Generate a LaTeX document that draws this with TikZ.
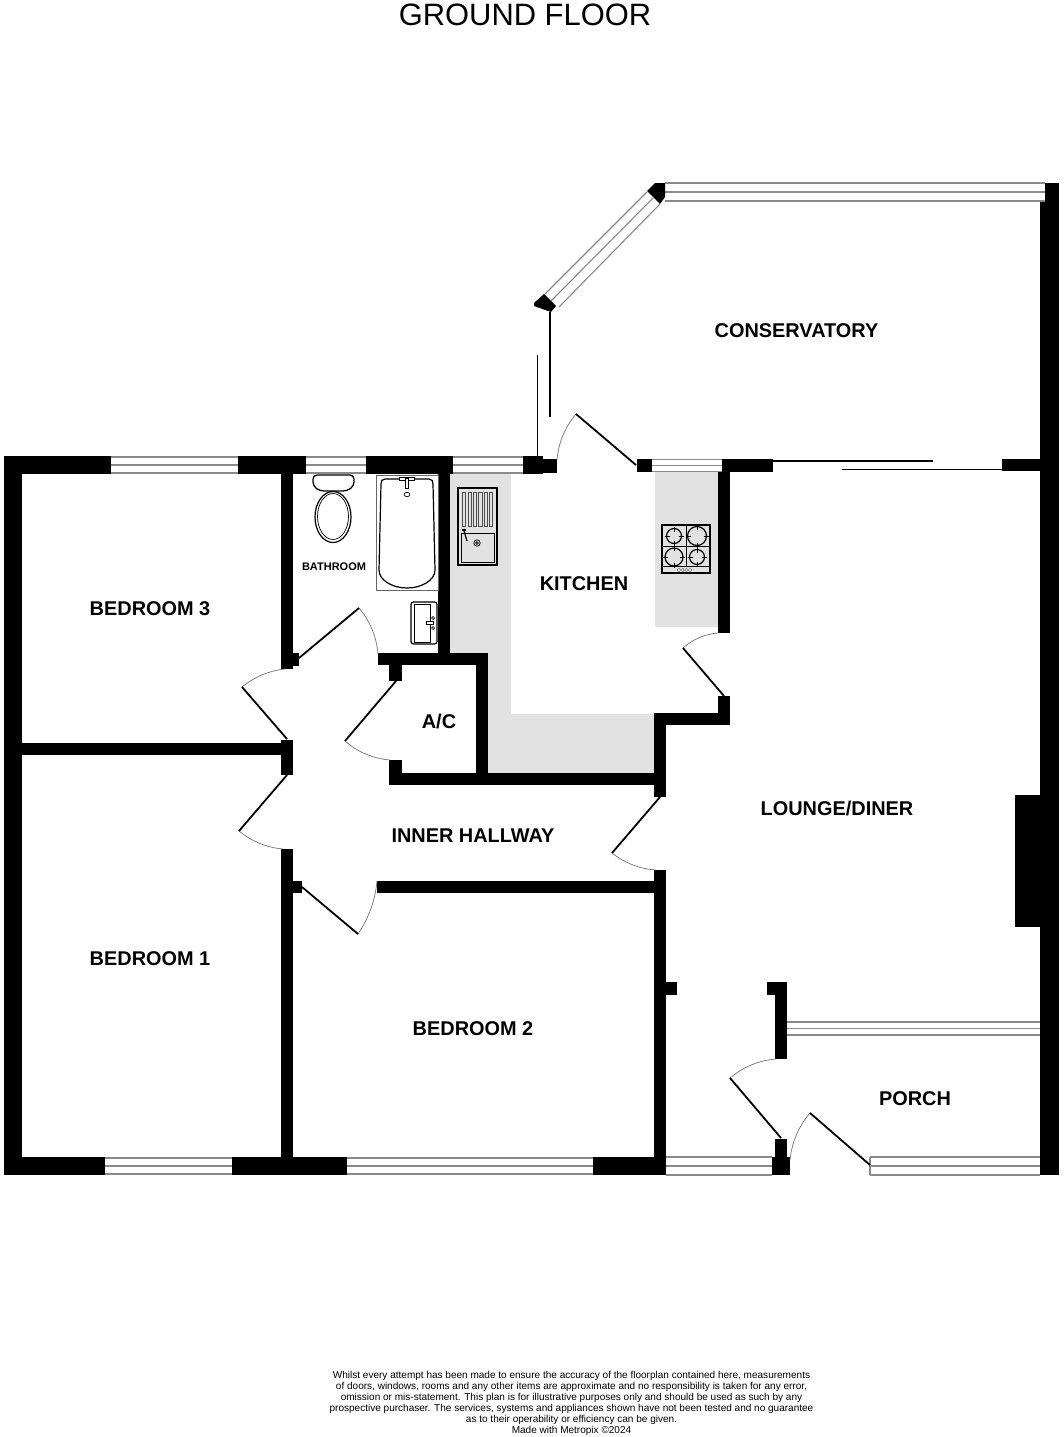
\documentclass[tikz,border=0pt]{standalone}
\usepackage{fontspec}
\setmainfont{Liberation Sans}
\usetikzlibrary{calc}
\definecolor{wallc}{HTML}{000000}
\definecolor{glass}{HTML}{8A8A8A}
\definecolor{counter}{HTML}{E2E2E2}
\tikzset{
  leaf/.style={line width=1.8pt,black},
  swing/.style={line width=0.7pt,black!55},
  glassline/.style={line width=1.1pt,glass},
  fix/.style={line width=1.2pt,black},
  fixthin/.style={line width=0.7pt,black},
  room/.style={font=\bfseries\fontsize{19.9}{22}\selectfont,inner sep=0pt},
}
\newcommand\wall[4]{\fill[wallc] (#1,#2) rectangle (#3,#4);}
\newcommand\hwin[4]{% x1 x2 y1 y2
  \fill[white] (#1,#3) rectangle (#2,#4);
  \draw[glassline] (#1,#3) -- (#2,#3) (#1,{(#3+#4)/2}) -- (#2,{(#3+#4)/2}) (#1,#4) -- (#2,#4);
}
% hinge, leaf end, arc end
\newcommand\door[6]{%
  \coordinate (H) at (#1,#2); \coordinate (L) at (#3,#4); \coordinate (A) at (#5,#6);
  \draw[swing] (L) .. controls ($0.7017*(L)+0.3683*(A)-0.07*(H)$) and ($0.7017*(A)+0.3683*(L)-0.07*(H)$) .. (A);
  \draw[leaf] (H) -- (L);
}
\newcommand\burner[3]{%
  \draw[fix] (#1,#2) circle (#3);
  \draw[fixthin] (#1-#3-2,#2) -- (#1-#3+3,#2) (#1+#3-3,#2) -- (#1+#3+2,#2)
                 (#1,#2-#3-2) -- (#1,#2-#3+3) (#1,#2+#3-3) -- (#1,#2+#3+2);
}
\begin{document}
\begin{tikzpicture}[x=1pt,y=-1pt]
\useasboundingbox (0,0) rectangle (1064,1437);
\fill[white] (0,0) rectangle (1064,1437);

% counters
\fill[counter] (450,474) -- (511,474) -- (511,714) -- (654,714) -- (654,773) -- (488,773) -- (488,653) -- (450,653) -- cycle;
\fill[counter] (655,472) rectangle (718,627);

% top wall of the house
\wall{4}{456}{111}{474}
\wall{238}{456}{306}{474}
\wall{366}{456}{453}{474}
\wall{523}{456}{543}{474}
\wall{543}{459}{557}{473}
\wall{637}{459}{652}{472}
\wall{722}{459}{773}{471.5}
\wall{1002}{459}{1040}{471}
% windows top
\hwin{111}{238}{457}{473}
\hwin{306}{366}{457}{473}
\hwin{453}{523}{457}{473}
\hwin{652}{722}{459.5}{471.5}

% outer
\wall{4}{456}{22}{1175}
\wall{1040}{201}{1059}{1175}
\wall{1045}{183}{1059}{201}
\wall{1015}{795}{1040}{927}
% bottom wall
\wall{4}{1157}{105}{1175}
\wall{232}{1157}{347}{1175}
\wall{593}{1157}{666}{1175}
\wall{772}{1157}{790}{1175}
\wall{775}{1139}{787}{1157}
\hwin{105}{232}{1158}{1174}
\hwin{347}{593}{1158}{1174}
\hwin{666}{772}{1157}{1175}
\hwin{870}{1040}{1157}{1175}
\draw[glassline] (870,1157) -- (870,1175);

% interior walls
\wall{22}{743}{281}{755}
\wall{281}{474}{293}{669}
\wall{293}{653}{299}{666}
\wall{281}{740}{293}{775}
\wall{281}{849}{293}{1157}
\wall{293}{881}{302}{893}
\wall{377}{881}{666}{893}
\wall{654}{870}{666}{1157}
\wall{666}{982}{677}{995}
\wall{438}{474}{450}{653}
\wall{378}{653}{488}{665}
\wall{389}{665}{402}{681}
\wall{476}{653}{488}{785}
\wall{389}{760}{402}{785}
\wall{389}{773}{666}{785}
\wall{654}{713}{666}{797}
\wall{654}{713}{730}{725}
\wall{718}{696}{730}{725}
\wall{718}{472}{730}{633}
\wall{767}{982}{787}{995}
\wall{775}{982}{787}{1059}
\hwin{787}{1040}{1022}{1035}

% conservatory glazing
\hwin{665}{1045}{183}{201}
\draw[glassline] (545,294) -- (647,192) (551,301) -- (653,198) (559,307) -- (660,204);
\fill[wallc] (655,183) -- (665,183) -- (665,197) -- (660,204) -- (647,191) -- cycle;
\fill[wallc] (544,294) -- (556,306) -- (551,312) -- (534,306) -- (534,303) -- cycle;

% sliding doors
\draw[leaf] (550,312) -- (550,417);
\draw[leaf] (537.5,355) -- (537.5,456);
\draw[line width=1.6pt] (773,460.8) -- (933,460.8);
\draw[line width=1.6pt] (842,469.5) -- (1002,469.5);

% doors
\door{636}{465}{576}{414}{557}{460}
\door{724}{696}{683}{648}{718}{633}
\door{299}{658}{359}{608}{378}{654}
\door{287}{739}{242}{687}{285}{669}
\door{287}{775}{239}{831}{283}{849}
\door{302}{887}{358}{934}{377}{881}
\door{396}{681}{345}{741}{390}{760}
\door{660}{797}{612}{853}{656}{870}
\door{781}{1138}{730}{1078}{776}{1059}
\door{870}{1165}{810}{1113}{790}{1160}

% toilet
\draw[line width=1.3pt,fill=white,rounded corners=4pt] (313,475) -- (354,475) -- (354,486) -- (347,491) -- (320,491) -- (313,486) -- cycle;
\draw[fix] (333,517) ellipse (18 and 25.5);
\draw[fixthin] (333,516.5) ellipse (15.5 and 23);
% bath
\draw[line width=0.8pt,black!60] (376,475) rectangle (438,590);
\draw[fix] (385,479) -- (429,479) .. controls (432,479) and (433,481) .. (433,484)
  -- (435,570) .. controls (435,580) and (422,588) .. (407,588)
  .. controls (392,588) and (379,580) .. (379,570) -- (381,484) .. controls (381,481) and (382,479) .. (385,479) -- cycle;
\draw[fixthin,fill=white] (399,477.5) rectangle (414,480.5);
\draw[fixthin,fill=white] (405.5,478) rectangle (408.5,488);
\draw[fixthin] (407,494.5) ellipse (2.8 and 2.2);
% basin
\draw[line width=1.2pt,rounded corners=2.5pt] (411,602) rectangle (437,644);
\draw[fixthin] (414,604) rectangle (430,642);
\draw[fixthin,fill=white] (426,621) rectangle (433,624);
\draw[fixthin] (433,618) circle (1.5) (433,628) circle (1.5);
% kitchen sink
\draw[line width=1.4pt] (458,488) rectangle (497,565);
\foreach \i in {0,...,5}{\draw[line width=0.6pt,black!70] ({462.5+5.4*\i},492) rectangle ({465.7+5.4*\i},526);}
\draw[fixthin] (461,533) rectangle (494,562);
\draw[fixthin] (477,543) circle (3.2) (477,543) circle (1.3);
\draw[line width=1.2pt] (464,531) -- (467,541);
\draw[line width=1.2pt] (462,530) -- (466,530);
% hob
\draw[line width=1.2pt] (662,525) rectangle (710,573);
\draw[fixthin] (686,525) -- (686,566) (662,546) -- (710,546) (662,566) -- (710,566);
\burner{674}{536}{7.5}
\burner{697}{536}{9.5}
\burner{674}{557}{9}
\burner{697}{557}{7.5}
\foreach \i in {0,1,2,3}{\draw[line width=0.4pt,black!55] ({679+3.7*\i},570) circle (1.8);}

% labels
\node[inner sep=0pt,font=\fontsize{30.9}{34}\selectfont] (title) at (525,14.7) {GROUND FLOOR};
\node[room] (conservatory) at (796.5,330.2) {CONSERVATORY};
\node[room] (kitchen) at (584,583.2) {KITCHEN};
\node[room] (bed3) at (150,608.2) {BEDROOM 3};
\node[inner sep=0pt,font=\bfseries\fontsize{11}{13}\selectfont] (bath) at (334,566.5) {BATHROOM};
\node[room] (ac) at (439,721.2) {A/C};
\node[room] (lounge) at (837,808.2) {LOUNGE/DINER};
\node[room] (hall) at (473,835.2) {INNER HALLWAY};
\node[room] (bed1) at (150,958.2) {BEDROOM 1};
\node[room] (bed2) at (473,1028.2) {BEDROOM 2};
\node[room] (porch) at (915,1098.2) {PORCH};
\node[inner sep=0pt,align=center,anchor=north,font=\fontsize{10.03}{11}\selectfont] (note) at (571.5,1371.3) {Whilst every attempt has been made to ensure the accuracy of the floorplan contained here, measurements\\
of doors, windows, rooms and any other items are approximate and no responsibility is taken for any error,\\
omission or mis-statement. This plan is for illustrative purposes only and should be used as such by any\\
prospective purchaser. The services, systems and appliances shown have not been tested and no guarantee\\
as to their operability or efficiency can be given.\\
Made with Metropix ©2024};
\end{tikzpicture}
\end{document}
